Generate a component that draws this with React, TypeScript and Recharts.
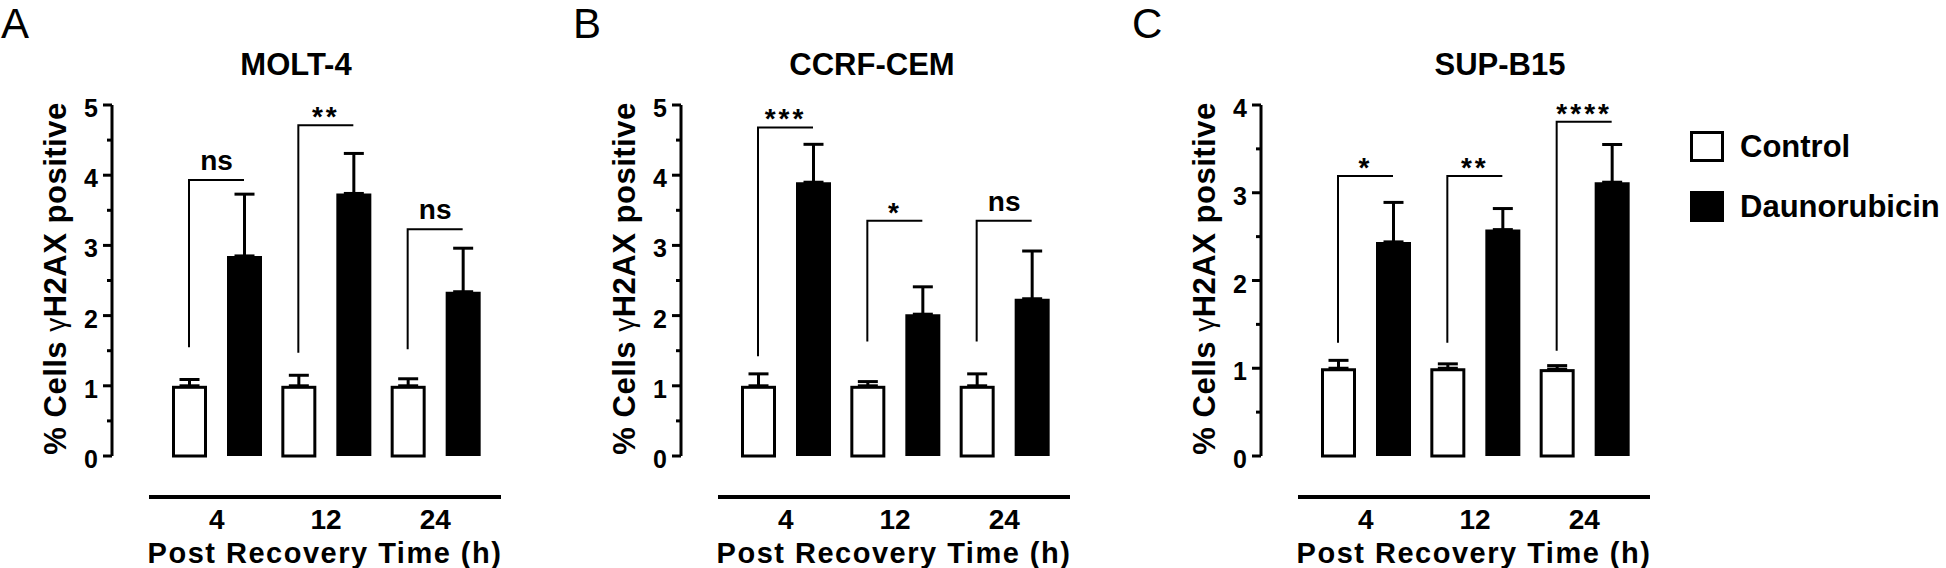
import { BarChart, Bar, XAxis, YAxis, ErrorBar, LabelList, Legend } from 'recharts'

const FONT = '"Liberation Sans", Arial, Helvetica, sans-serif'

// x categories (hours after recovery)
const times = ['4', '12', '24']

// MOLT-4
const moltControl = [1.0, 1.0, 1.0]
const moltControlErr = [0.09, 0.15, 0.1]
const moltDauno = [2.85, 3.74, 2.34]
const moltDaunoErr = [0.88, 0.57, 0.62]
const moltBracket = [[1.55, 3.93], [1.47, 4.71], [1.52, 3.23]]
const moltSig = ['ns', '**', 'ns']

// CCRF-CEM
const cemControl = [1.0, 1.0, 1.0]
const cemControlErr = [0.17, 0.06, 0.17]
const cemDauno = [3.9, 2.02, 2.24]
const cemDaunoErr = [0.54, 0.39, 0.68]
const cemBracket = [[1.42, 4.68], [1.63, 3.35], [1.63, 3.35]]
const cemSig = ['***', '*', 'ns']

// SUP-B15
const supControl = [1.0, 1.0, 0.99]
const supControlErr = [0.09, 0.05, 0.04]
const supDauno = [2.44, 2.58, 3.12]
const supDaunoErr = [0.45, 0.24, 0.43]
const supBracket = [[1.29, 3.19], [1.29, 3.19], [1.2, 3.81]]
const supSig = ['*', '**', '****']

const AXIS_W = 112
const PLOT_W = 426
const PLOT_TOP = 105
const XAXIS_H = 112
const H = 568

function buildRows(
  control: number[],
  controlErr: number[],
  dauno: number[],
  daunoErr: number[],
  bracket: number[][],
  sig: string[]
) {
  return times.map((t, i) => ({
    time: t,
    Control: control[i],
    controlErr: [0, controlErr[i]],
    Daunorubicin: dauno[i],
    daunoErr: [0, daunoErr[i]],
    bracket: bracket[i],
    sig: sig[i],
  }))
}

function YTick(props: any) {
  const { x, y, payload } = props
  const v = payload.value
  const major = Number.isInteger(v)
  return (
    <g>
      <line x1={x - (major ? 9 : 5)} x2={x} y1={y} y2={y} stroke="#000" strokeWidth={3} />
      {major && (
        <text x={x - 14} y={y + 12} textAnchor="end" fontFamily={FONT} fontSize={25} fontWeight={700} fill="#000">
          {v}
        </text>
      )}
    </g>
  )
}

function YLabel(props: any) {
  const vb = props.viewBox || { x: 0, y: PLOT_TOP, width: AXIS_W, height: H - PLOT_TOP - XAXIS_H }
  const cx = vb.x + vb.width - 57
  const cy = vb.y + vb.height / 2 - 2
  return (
    <text
      x={cx}
      y={cy}
      transform={`rotate(-90 ${cx} ${cy})`}
      textAnchor="middle"
      dominantBaseline="central"
      fontFamily={FONT}
      fontSize={31}
      fontWeight={700}
      letterSpacing={0.5}
      fill="#000"
    >
      {'% Cells '}
      <tspan fontWeight={400} fontSize={28}>γ</tspan>
      {'H2AX positive'}
    </text>
  )
}

function ControlShape(props: any) {
  const { x, y, width, height } = props
  return (
    <rect
      x={x + 1.5}
      y={y + 1.5}
      width={Math.max(width - 3, 0)}
      height={Math.max(height - 1.5, 0)}
      fill="#fff"
      stroke="#000"
      strokeWidth={3}
    />
  )
}

function BracketShape(props: any) {
  const { x, y, width, height } = props
  const top = Math.min(y, y + height)
  const bottom = Math.max(y, y + height)
  return <path d={`M${x},${bottom} L${x},${top} L${x + width},${top}`} stroke="#000" strokeWidth={2} fill="none" />
}

function SigLabel(props: any) {
  const box = props.x != null ? props : props.viewBox
  const { x, y, width, height } = box
  const top = Math.min(y, y + height)
  const ns = props.value === 'ns'
  return (
    <text
      x={x + width / 2}
      y={top - (ns ? 10 : -1)}
      textAnchor="middle"
      fontFamily={FONT}
      fontSize={28}
      fontWeight={700}
      letterSpacing={ns ? 0 : 3}
      fill="#000"
    >
      {props.value}
    </text>
  )
}

function LegendBox(props: any) {
  const items = (props.payload || []).filter((e: any) => e.type !== 'none')
  return (
    <div style={{ fontFamily: FONT, fontWeight: 700, fontSize: 31, color: '#000' }}>
      {items.map((e: any) => (
        <div key={e.value} style={{ display: 'flex', alignItems: 'center', height: 31, marginBottom: 29 }}>
          <span
            style={{
              display: 'inline-block',
              width: 34,
              height: 31,
              boxSizing: 'border-box',
              background: e.color,
              border: '3px solid #000',
              marginRight: 16,
            }}
          />
          <span style={{ lineHeight: '31px', whiteSpace: 'nowrap' }}>{e.value}</span>
        </div>
      ))}
    </div>
  )
}

interface PanelProps {
  rows: ReturnType<typeof buildRows>
  yMax: number
  width: number
  legend?: boolean
}

function Panel({ rows, yMax, width, legend }: PanelProps) {
  const yTicks: number[] = []
  for (let i = 0; i <= yMax * 2; i++) yTicks.push(i / 2)

  return (
    <BarChart
      width={width}
      height={H}
      data={rows}
      margin={{ top: PLOT_TOP, right: width - AXIS_W - PLOT_W, bottom: 0, left: 0 }}
      barSize={35}
      barGap={20}
    >
      <XAxis
        dataKey="time"
        height={XAXIS_H}
        padding={{ left: 50, right: 48 }}
        interval={0}
        tickLine={false}
        tickSize={0}
        tickMargin={53}
        axisLine={{
          stroke: '#000',
          strokeWidth: 4,
          strokeDasharray: '0 37 352 2000',
          transform: 'translate(0 41)',
        }}
        tick={{ fill: '#000', fontSize: 28, fontWeight: 700, fontFamily: FONT }}
        label={{
          value: 'Post Recovery Time (h)',
          position: 'insideBottom',
          offset: 5,
          fill: '#000',
          fontSize: 29,
          fontWeight: 700,
          fontFamily: FONT,
          letterSpacing: 1.5,
        }}
      />
      <XAxis xAxisId="sig" dataKey="time" hide padding={{ left: 50, right: 48 }} />
      <YAxis
        domain={[0, yMax]}
        ticks={yTicks}
        interval={0}
        width={AXIS_W}
        axisLine={{ stroke: '#000', strokeWidth: 3 }}
        tickLine={false}
        tickSize={0}
        tickMargin={0}
        tick={YTick}
        label={YLabel}
      />
      <Bar dataKey="Control" fill="#fff" shape={ControlShape} isAnimationActive={false}>
        <ErrorBar dataKey="controlErr" width={10} stroke="#000" strokeWidth={3} direction="y" />
      </Bar>
      <Bar dataKey="Daunorubicin" fill="#000" isAnimationActive={false}>
        <ErrorBar dataKey="daunoErr" width={10} stroke="#000" strokeWidth={3} direction="y" />
      </Bar>
      <Bar
        xAxisId="sig"
        dataKey="bracket"
        barSize={55}
        shape={BracketShape}
        legendType="none"
        isAnimationActive={false}
      >
        <LabelList dataKey="sig" content={SigLabel} />
      </Bar>
      {legend && (
        <Legend
          layout="vertical"
          align="center"
          verticalAlign="middle"
          wrapperStyle={{ left: 541, top: 131, width: 270 }}
          content={LegendBox}
        />
      )}
    </BarChart>
  )
}

const letterStyle = {
  position: 'absolute' as const,
  top: 3,
  fontFamily: FONT,
  fontSize: 42,
  lineHeight: '42px',
  fontWeight: 400,
  color: '#000',
}

const titleStyle = {
  position: 'absolute' as const,
  top: 49,
  width: 300,
  textAlign: 'center' as const,
  fontFamily: FONT,
  fontSize: 31,
  lineHeight: '31px',
  fontWeight: 700,
  color: '#000',
}

export default function App() {
  const molt = buildRows(moltControl, moltControlErr, moltDauno, moltDaunoErr, moltBracket, moltSig)
  const cem = buildRows(cemControl, cemControlErr, cemDauno, cemDaunoErr, cemBracket, cemSig)
  const sup = buildRows(supControl, supControlErr, supDauno, supDaunoErr, supBracket, supSig)

  return (
    <div
      style={{
        position: 'absolute',
        left: 0,
        top: 0,
        width: 1946,
        height: H,
        overflow: 'hidden',
        background: '#fff',
      }}
    >
      <div style={{ position: 'absolute', left: 0, top: 0 }}>
        <Panel rows={molt} yMax={5} width={560} />
      </div>
      <div style={{ position: 'absolute', left: 569, top: 0 }}>
        <Panel rows={cem} yMax={5} width={560} />
      </div>
      <div style={{ position: 'absolute', left: 1149, top: 0 }}>
        <Panel rows={sup} yMax={4} width={797} legend />
      </div>

      <div style={{ ...letterStyle, left: 1 }}>A</div>
      <div style={{ ...letterStyle, left: 573 }}>B</div>
      <div style={{ ...letterStyle, left: 1132 }}>C</div>

      <div style={{ ...titleStyle, left: 296 - 150 }}>MOLT-4</div>
      <div style={{ ...titleStyle, left: 872 - 150 }}>CCRF-CEM</div>
      <div style={{ ...titleStyle, left: 1500 - 150 }}>SUP-B15</div>
    </div>
  )
}
